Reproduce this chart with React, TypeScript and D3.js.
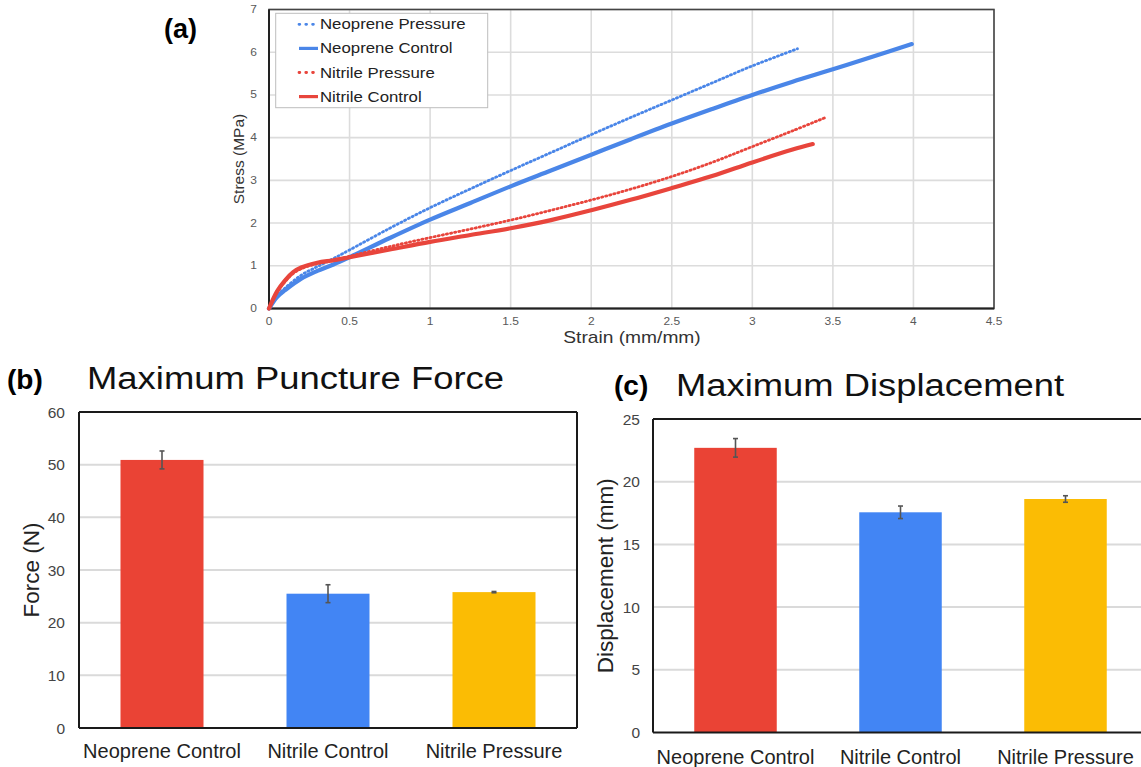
import React from 'react';
import * as d3 from 'd3';

const W = 1141;
const H = 767;
const FONT = '"Liberation Sans", Arial, sans-serif';

// (a) stress-strain curves
const neoPressStrain = [0, 0.05, 0.1, 0.2, 0.3, 0.4, 0.5, 0.75, 1, 1.25, 1.5, 1.75, 2, 2.25, 2.5, 2.75, 3, 3.28];
const neoPressStress = [0, 0.3, 0.48, 0.78, 0.98, 1.17, 1.37, 1.88, 2.36, 2.8, 3.23, 3.65, 4.07, 4.48, 4.88, 5.28, 5.68, 6.08];

const neoCtrlStrain = [0, 0.05, 0.1, 0.2, 0.3, 0.4, 0.5, 0.75, 1, 1.25, 1.5, 1.75, 2, 2.25, 2.5, 2.75, 3, 3.25, 3.5, 3.75, 3.99];
const neoCtrlStress = [0, 0.27, 0.43, 0.7, 0.88, 1.03, 1.2, 1.65, 2.08, 2.47, 2.86, 3.23, 3.6, 3.97, 4.33, 4.67, 5.0, 5.31, 5.6, 5.9, 6.19];

const nitPressStrain = [0, 0.05, 0.1, 0.15, 0.2, 0.3, 0.4, 0.5, 0.75, 1, 1.25, 1.5, 1.75, 2, 2.25, 2.5, 2.75, 3, 3.25, 3.46];
const nitPressStress = [0, 0.38, 0.63, 0.82, 0.93, 1.05, 1.12, 1.22, 1.45, 1.66, 1.86, 2.07, 2.3, 2.54, 2.8, 3.09, 3.42, 3.79, 4.16, 4.48];

const nitCtrlStrain = [0, 0.05, 0.1, 0.15, 0.2, 0.3, 0.4, 0.5, 0.75, 1, 1.25, 1.5, 1.75, 2, 2.25, 2.5, 2.75, 3, 3.25, 3.375];
const nitCtrlStress = [0, 0.4, 0.66, 0.85, 0.96, 1.07, 1.13, 1.2, 1.38, 1.56, 1.72, 1.88, 2.07, 2.3, 2.55, 2.82, 3.1, 3.42, 3.72, 3.85];

const curveNames = ['Neoprene Pressure', 'Neoprene Control', 'Nitrile Pressure', 'Nitrile Control'];

// (b) and (c) bars
const categories = ['Neoprene Control', 'Nitrile Control', 'Nitrile Pressure'];
const forceMean = [50.9, 25.5, 25.8];
const forceErr = [1.7, 1.7, 0.12];
const dispMean = [22.7, 17.56, 18.62];
const dispErr = [0.74, 0.5, 0.26];

const BLUE = '#4a86e8';
const RED = '#e8453c';
const barColors = ['#EA4335', '#4285F4', '#FBBC04'];

// panel (a) text is stretched sideways in the original
const SX = 1.2;
const SText = ({ x, y, size, anchor = 'start', fill = '#595959', children }: any) => (
  <text transform={`translate(${x},${y}) scale(${SX},1)`} fontSize={size} textAnchor={anchor} fill={fill}>
    {children}
  </text>
);

const StressStrain = () => {
  const x = d3.scaleLinear().domain([0, 4.5]).range([269, 994]);
  const y = d3.scaleLinear().domain([0, 7]).range([308.5, 9.5]);
  const line = d3.line<[number, number]>().x(d => x(d[0])).y(d => y(d[1])).curve(d3.curveCatmullRom.alpha(0.5));
  const zip = (a: number[], b: number[]) => a.map((v, i) => [v, b[i]] as [number, number]);

  const series = [
    { pts: zip(neoPressStrain, neoPressStress), color: BLUE, dash: '1.2,3', w: 2.8 },
    { pts: zip(neoCtrlStrain, neoCtrlStress), color: BLUE, dash: null, w: 4.2 },
    { pts: zip(nitPressStrain, nitPressStress), color: RED, dash: '1.2,3', w: 2.8 },
    { pts: zip(nitCtrlStrain, nitCtrlStress), color: RED, dash: null, w: 4.2 },
  ];

  return (
    <g fontFamily={FONT}>
      {x.ticks(9).map(t => (
        <line key={'gx' + t} x1={x(t)} x2={x(t)} y1={y(0)} y2={y(7)} stroke="#dcdcdc" strokeWidth={1.6} />
      ))}
      {y.ticks(7).map(t => (
        <line key={'gy' + t} x1={x(0)} x2={x(4.5)} y1={y(t)} y2={y(t)} stroke="#dcdcdc" strokeWidth={1.6} />
      ))}
      <rect x={x(0)} y={y(7)} width={x(4.5) - x(0)} height={y(0) - y(7)} fill="none" stroke="#444" strokeWidth={1.6} />
      <line x1={x(0)} x2={x(0)} y1={y(0)} y2={y(7)} stroke="#222" strokeWidth={2} />
      <line x1={x(0)} x2={x(4.5)} y1={y(0)} y2={y(0)} stroke="#222" strokeWidth={2} />

      {series.map((s, i) => (
        <path key={i} d={line(s.pts) || ''} fill="none" stroke={s.color} strokeWidth={s.w}
          strokeDasharray={s.dash || undefined} strokeLinecap="round" />
      ))}

      {x.ticks(9).map(t => (
        <SText key={'tx' + t} x={x(t)} y={325} size={10} anchor="middle">{String(t)}</SText>
      ))}
      {y.ticks(7).map(t => (
        <SText key={'ty' + t} x={257} y={y(t) + 3.5} size={10} anchor="end">{String(t)}</SText>
      ))}

      <SText x={632} y={343} size={16} anchor="middle" fill="#333">Strain (mm/mm)</SText>
      <text transform={`translate(244,159) rotate(-90)`} fontSize={15.5} textAnchor="middle" fill="#333">Stress (MPa)</text>

      {/* legend */}
      <rect x={275.7} y={13.3} width={212} height={94.4} fill="#fff" stroke="#bdbdbd" strokeWidth={1} />
      {curveNames.map((n, i) => {
        const cy = 24.3 + i * 24.1;
        const s = series[i];
        return (
          <g key={n}>
            <line x1={299} x2={318} y1={cy} y2={cy} stroke={s.color} strokeWidth={s.dash ? 2.8 : 3.2}
              strokeDasharray={s.dash ? '0.8,6' : undefined} strokeLinecap={s.dash ? 'round' : 'butt'} />
            <SText x={320} y={cy + 5} size={14} fill="#222">{n}</SText>
          </g>
        );
      })}

      <text x={164} y={38} fontSize={27} fontWeight="bold" fill="#000">(a)</text>
    </g>
  );
};

const BarPanel = ({ tag, tagX, tagY, title, titleX, titleY, titleLen, yLabel, yLabelX, mean, err,
  left, right, top, bottom, max, step, tickX, catY, drawRight }: any) => {
  const x = d3.scaleBand<string>().domain(categories).range([left, right]).paddingInner(0.5).paddingOuter(0.25);
  const y = d3.scaleLinear().domain([0, max]).range([bottom, top]);
  const ticks = d3.range(0, max + step / 2, step);
  return (
    <g fontFamily={FONT}>
      {ticks.filter(t => t > 0 && t < max).map(t => (
        <line key={'g' + t} x1={left} x2={right} y1={y(t)} y2={y(t)} stroke="#dadada" strokeWidth={2} />
      ))}
      {categories.map((c, i) => (
        <rect key={c} x={x(c)} y={y(mean[i])} width={x.bandwidth()} height={y(0) - y(mean[i])} fill={barColors[i]} />
      ))}
      {categories.map((c, i) => {
        const cx = (x(c) || 0) + x.bandwidth() / 2;
        const y1 = y(mean[i] + err[i]);
        const y2 = y(mean[i] - err[i]);
        return (
          <g key={'e' + c} stroke="#555" strokeWidth={1.6}>
            <line x1={cx} x2={cx} y1={y1} y2={y2} />
            <line x1={cx - 2.5} x2={cx + 2.5} y1={y1} y2={y1} />
            <line x1={cx - 2.5} x2={cx + 2.5} y1={y2} y2={y2} />
          </g>
        );
      })}
      <line x1={left} x2={right} y1={top} y2={top} stroke="#1a1a1a" strokeWidth={2} />
      <line x1={left} x2={left} y1={top} y2={bottom} stroke="#1a1a1a" strokeWidth={2} />
      <line x1={left} x2={right} y1={bottom} y2={bottom} stroke="#1a1a1a" strokeWidth={2} />
      {drawRight && <line x1={right} x2={right} y1={top} y2={bottom} stroke="#1a1a1a" strokeWidth={2} />}

      {ticks.map(t => (
        <text key={'t' + t} x={tickX} y={y(t) + 5.5} fontSize={15.5} textAnchor="end" fill="#444">{t}</text>
      ))}
      {categories.map(c => (
        <text key={'c' + c} x={(x(c) || 0) + x.bandwidth() / 2} y={catY} fontSize={20} textAnchor="middle" fill="#222">{c}</text>
      ))}
      <text transform={`translate(${yLabelX},${(top + bottom) / 2}) rotate(-90)`} fontSize={22.5}
        textAnchor="middle" fill="#222">{yLabel}</text>
      <text x={titleX} y={titleY} fontSize={31} textLength={titleLen} lengthAdjust="spacingAndGlyphs" fill="#111">{title}</text>
      <text x={tagX} y={tagY} fontSize={28} fontWeight="bold" fill="#000">{tag}</text>
    </g>
  );
};

export default function App() {
  return (
    <svg width={W} height={H} style={{ position: 'absolute', left: 0, top: 0, background: '#fff' }}>
      <StressStrain />
      <BarPanel tag="(b)" tagX={7} tagY={389} title="Maximum Puncture Force" titleX={87} titleY={389} titleLen={417}
        yLabel="Force (N)" yLabelX={39} mean={forceMean} err={forceErr}
        left={79} right={577} top={412} bottom={728} max={60} step={10} tickX={65} catY={758} drawRight />
      <BarPanel tag="(c)" tagX={614} tagY={395} title="Maximum Displacement" titleX={676} titleY={396} titleLen={388}
        yLabel="Displacement (mm)" yLabelX={613} mean={dispMean} err={dispErr}
        left={653} right={1148} top={419} bottom={732.5} max={25} step={5} tickX={640} catY={764} drawRight={false} />
    </svg>
  );
}
